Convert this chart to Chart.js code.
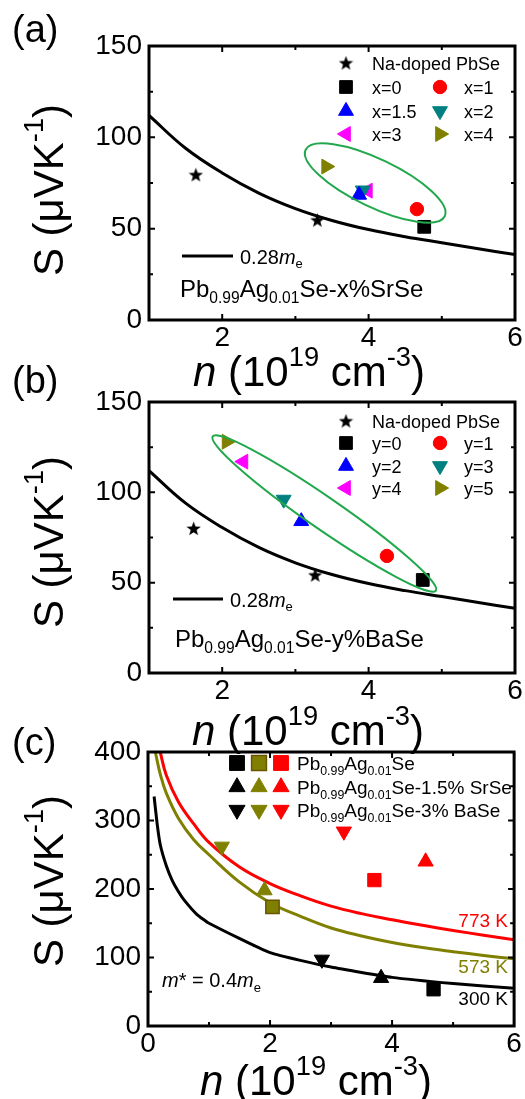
<!DOCTYPE html>
<html><head><meta charset="utf-8">
<script src="https://cdn.jsdelivr.net/npm/chart.js@4.4.0/dist/chart.umd.min.js"></script>
<style>
html,body{margin:0;padding:0;background:#fff;}
#wrap{position:relative;width:525px;height:1099px;overflow:hidden;background:#fff;}
canvas{position:absolute;left:0;top:0;}
</style></head><body>
<div id="wrap">
<canvas id="ca" width="525" height="1099"></canvas>
<canvas id="cb" width="525" height="1099"></canvas>
<canvas id="cc" width="525" height="1099"></canvas>
</div>
<script>
// ---------- DATA ----------
// 0.28 m_e Pisarenko curve (panels a, b)
const curveN = [1, 1.5, 2, 2.5, 3, 3.5, 4, 4.5, 5, 5.5, 6];
const curveS = [112, 94, 80.5, 69.5, 61, 54.5, 49.5, 45.6, 42.3, 39, 35.8];

// Panel (a): Pb0.99Ag0.01Se-x%SrSe
const aStarN = [1.64, 3.30];
const aStarS = [79.5, 54.7];
const aLabels = ['x=0', 'x=1', 'x=1.5', 'x=2', 'x=3', 'x=4'];
const aN = [4.76, 4.66, 3.87, 3.92, 3.99, 3.42];
const aS = [51, 60.7, 68.5, 71, 70.8, 84];

// Panel (b): Pb0.99Ag0.01Se-y%BaSe
const bStarN = [1.61, 3.27];
const bStarS = [80, 54.2];
const bLabels = ['y=0', 'y=1', 'y=2', 'y=3', 'y=4', 'y=5'];
const bN = [4.74, 4.25, 3.08, 2.84, 2.29, 2.06];
const bS = [51.5, 64.8, 84, 96, 117, 128];

// Panel (c): temperature-dependent curves (m* = 0.4 m_e)
const n300 = [0.1, 0.15, 0.2, 0.3, 0.4, 0.5, 0.6, 0.8, 1, 2, 3, 4, 5, 6];
const s300 = [335, 295, 265, 234, 212, 196, 183, 163, 150, 107, 86, 71, 62, 55];
const n573 = [0.12, 0.2, 0.3, 0.5, 0.75, 1, 1.5, 2, 2.5, 3, 3.5, 4, 4.5, 5, 5.5, 6];
const s573 = [400, 368, 340, 303, 272, 250, 210, 180, 160, 143, 131.5, 122, 114.5, 108.5, 103, 98];
const n773 = [0.2, 0.3, 0.5, 0.75, 1, 1.5, 2, 2.5, 3, 3.5, 4, 4.5, 5, 5.5, 6];
const s773 = [400, 366, 327, 295, 268, 232, 208, 190, 175, 164, 155, 147, 139.5, 132.5, 126];
// markers: [300 K, 573 K, 773 K]
const cTempLabels = ['300 K', '573 K', '773 K'];
const cSqN = [4.68, 2.04, 3.71];   const cSqS = [53.6, 174, 213];     // Pb0.99Ag0.01Se
const cUpN = [3.82, 1.91, 4.55];   const cUpS = [70, 198, 240];       // -1.5% SrSe
const cDnN = [2.85, 1.21, 3.21];   const cDnS = [97, 262, 284];       // -3% BaSe

// tick labels
const abXTickLabels = [2, 4, 6];
const abYTickLabels = [0, 50, 100, 150];
const cXTickLabels = [0, 2, 4, 6];
const cYTickLabels = [0, 100, 200, 300, 400];

// ---------- STYLE ----------
const FONT = "'Liberation Sans', Arial, Helvetica, sans-serif";
const abColors = ['#000000', '#ff0000', '#0000ff', '#008080', '#ff00ff', '#808000'];
const abStyles = ['rect', 'circle', 'triangle', 'triangle', 'triangle', 'triangle'];
const abRot = [0, 0, 0, 180, -90, 90];
const abRad = [9, 6.7, 8.6, 8.6, 8.6, 8.6];
const tColors = ['#000000', '#808000', '#ff0000'];
const GREEN = '#22a84c';

function makeStar(size, color) {
  const c = document.createElement('canvas');
  c.width = size; c.height = size;
  const g = c.getContext('2d');
  const cx = size / 2, cy = size / 2 + 0.6, R = size / 2, r = R * 0.42;
  g.beginPath();
  for (let i = 0; i < 10; i++) {
    const ang = -Math.PI / 2 + i * Math.PI / 5;
    const rr = i % 2 ? r : R;
    g.lineTo(cx + rr * Math.cos(ang), cy + rr * Math.sin(ang));
  }
  g.closePath();
  g.fillStyle = color; g.fill();
  return c;
}
const STAR = makeStar(15, '#000');

function setFont(ctx, size, italic) { ctx.font = (italic ? 'italic ' : '') + size + 'px ' + FONT; }
function segSize(size, mode) { return (mode === 'sub' || mode === 'sup') ? size * 0.65 : size; }
function richWidth(ctx, segs, size) {
  let w = 0;
  segs.forEach(([t, m]) => { setFont(ctx, segSize(size, m), m === 'i'); w += ctx.measureText(t).width; });
  return w;
}
function drawRich(ctx, x, y, segs, size, align, color) {
  ctx.save();
  ctx.fillStyle = color || '#000';
  ctx.textBaseline = 'alphabetic';
  ctx.textAlign = 'left';
  const w = richWidth(ctx, segs, size);
  let cx = align === 'center' ? x - w / 2 : align === 'right' ? x - w : x;
  segs.forEach(([t, m]) => {
    const s = segSize(size, m);
    setFont(ctx, s, m === 'i');
    let dy = 0;
    if (m === 'sub') dy = size * 0.24;
    if (m === 'sup') dy = -size * 0.47;
    ctx.fillText(t, cx, y + dy);
    cx += ctx.measureText(t).width;
  });
  ctx.restore();
}

// frame + inward ticks
const framePlugin = {
  id: 'frame',
  afterDraw(chart) {
    const { ctx, chartArea: a, scales: { x, y } } = chart;
    ctx.save();
    ctx.strokeStyle = '#000';
    ctx.lineWidth = 2;
    ctx.beginPath();
    x.ticks.forEach(t => {
      const px = x.getPixelForValue(t.value);
      const L = t.label !== '' ? 6 : 4;
      ctx.moveTo(px, a.bottom); ctx.lineTo(px, a.bottom - L);
      ctx.moveTo(px, a.top); ctx.lineTo(px, a.top + L);
    });
    y.ticks.forEach(t => {
      const py = y.getPixelForValue(t.value);
      const L = t.label !== '' ? 6 : 4;
      ctx.moveTo(a.left, py); ctx.lineTo(a.left + L, py);
      ctx.moveTo(a.right, py); ctx.lineTo(a.right - L, py);
    });
    ctx.stroke();
    ctx.lineWidth = 3;
    ctx.strokeRect(a.left, a.top, a.right - a.left, a.bottom - a.top);
    ctx.restore();
  }
};

const yTitle = [['S (\u03bcVK', ''], ['-1', 'sup'], [')', '']];
const xTitle = [['n', 'i'], [' (10', ''], ['19', 'sup'], [' cm', ''], ['-3', 'sup'], [')', '']];

function drawTitles(ctx, o) {
  drawRich(ctx, o.xtX, o.xtY, xTitle, 42, 'left');
  ctx.save();
  ctx.translate(63, o.ytC);
  ctx.rotate(-Math.PI / 2);
  drawRich(ctx, 0, 0, yTitle, 42, 'center');
  ctx.restore();
  setFont(ctx, 38, false);
  ctx.fillStyle = '#000';
  ctx.textAlign = 'left'; ctx.textBaseline = 'alphabetic';
  ctx.fillText(o.panel, 12, o.panelY);
}

function drawEllipse(chart, e) {
  const { ctx, scales: { x, y } } = chart;
  const x1 = x.getPixelForValue(e.p1[0]), y1 = y.getPixelForValue(e.p1[1]);
  const x2 = x.getPixelForValue(e.p2[0]), y2 = y.getPixelForValue(e.p2[1]);
  const cx = (x1 + x2) / 2, cy = (y1 + y2) / 2;
  const a = Math.hypot(x2 - x1, y2 - y1) / 2;
  const ang = Math.atan2(y2 - y1, x2 - x1);
  ctx.save();
  ctx.strokeStyle = GREEN; ctx.lineWidth = 2;
  ctx.beginPath();
  ctx.ellipse(cx, cy, a, e.b, ang, 0, Math.PI * 2);
  ctx.stroke();
  ctx.restore();
}

function abPlugin(o) {
  return {
    id: 'deco',
    afterDatasetsDraw(chart) {
      drawEllipse(chart, o.ellipse);
    },
    afterDraw(chart) {
      const { ctx, chartArea: A } = chart;
      drawTitles(ctx, o);
      // legend
      const m1 = A.right - 169, t1 = A.right - 143, m2 = A.right - 75, t2 = A.right - 51;
      const rows = o.rows;
      ctx.drawImage(STAR, m1 - 7.5, rows[0] - 7.5);
      ctx.save();
      setFont(ctx, 18, false);
      ctx.fillStyle = '#000'; ctx.textBaseline = 'alphabetic'; ctx.textAlign = 'left';
      ctx.fillText('Na-doped PbSe', t1, rows[0] + 6.5);
      for (let i = 0; i < 6; i++) {
        const col = i % 2, row = 1 + Math.floor(i / 2);
        const mx = col ? m2 : m1, tx = col ? t2 : t1, my = rows[row];
        ctx.fillStyle = abColors[i]; ctx.strokeStyle = abColors[i]; ctx.lineWidth = 1;
        Chart.helpers.drawPoint(ctx, { pointStyle: abStyles[i], rotation: abRot[i], radius: abRad[i], borderWidth: 1 }, mx, my);
        ctx.fillStyle = '#000';
        setFont(ctx, 18, false);
        ctx.fillText(o.labels[i], tx, my + 6.5);
      }
      // 0.28 me line and label
      ctx.strokeStyle = '#000'; ctx.lineWidth = 3;
      ctx.beginPath(); ctx.moveTo(o.lineX[0], o.lineY); ctx.lineTo(o.lineX[1], o.lineY); ctx.stroke();
      ctx.restore();
      drawRich(ctx, o.lineX[1] + 7, o.lineY + 7.5, [['0.28', ''], ['m', 'i'], ['e', 'sub']], 20, 'left');
      drawRich(ctx, o.compX, o.compY, [['Pb', ''], ['0.99', 'sub'], ['Ag', ''], ['0.01', 'sub'], [o.comp, '']], 24, 'left');
    }
  };
}

function tickCb(list) { return v => (list.includes(Math.round(v * 1000) / 1000) ? String(v) : ''); }

function scales(xmin, xmax, ymin, ymax, ystep, xl, yl, ywidth) {
  return {
    x: {
      type: 'linear', min: xmin, max: xmax,
      grid: { display: false, drawTicks: false }, border: { display: false },
      ticks: { stepSize: 1, autoSkip: false, maxRotation: 0, padding: 1, color: '#000',
        font: { family: FONT, size: 28 }, callback: tickCb(xl) },
      afterFit(s) { s.height = 40; }
    },
    y: {
      type: 'linear', min: ymin, max: ymax,
      grid: { display: false, drawTicks: false }, border: { display: false },
      ticks: { stepSize: ystep, autoSkip: false, padding: 7, color: '#000',
        font: { family: FONT, size: 28 }, callback: tickCb(yl) },
      afterFit(s) { s.width = ywidth; }
    }
  };
}

const baseOpts = {
  responsive: false, animation: false, events: [],
  plugins: { legend: { display: false }, tooltip: { enabled: false } }
};

function abDatasets(starN, starS, N, S) {
  const ds = [{
    data: curveN.map((v, i) => ({ x: v, y: curveS[i] })),
    showLine: true, borderColor: '#000', borderWidth: 3, pointRadius: 0,
    tension: 0.4, order: 10
  }, {
    data: starN.map((v, i) => ({ x: v, y: starS[i] })),
    pointStyle: STAR, pointRadius: 7, showLine: false, order: 1
  }];
  for (let i = 0; i < N.length; i++) {
    ds.push({
      data: [{ x: N[i], y: S[i] }], showLine: false,
      pointStyle: abStyles[i], pointRotation: abRot[i], pointRadius: abRad[i],
      backgroundColor: abColors[i], borderColor: abColors[i], borderWidth: 1, order: 1
    });
  }
  return ds;
}

new Chart(document.getElementById('ca'), {
  type: 'scatter',
  data: { datasets: abDatasets(aStarN, aStarS, aN, aS) },
  options: Object.assign({}, baseOpts, {
    layout: { padding: { left: 0, right: 8, top: 46, bottom: 1099 - 320 - 40 } },
    scales: scales(1, 6, 0, 150, 25, abXTickLabels, abYTickLabels, 149)
  }),
  plugins: [framePlugin, abPlugin({
    ellipse: { p1: [3.14, 93.2], p2: [5.04, 56.8], b: 24 },
    rows: [63, 87, 111, 134], labels: aLabels,
    lineX: [182, 233], lineY: 256, compX: 180, compY: 297, comp: 'Se-x%SrSe',
    xtX: 193, xtY: 386, ytC: 190, panel: '(a)', panelY: 42
  })]
});

new Chart(document.getElementById('cb'), {
  type: 'scatter',
  data: { datasets: abDatasets(bStarN, bStarS, bN, bS) },
  options: Object.assign({}, baseOpts, {
    layout: { padding: { left: 0, right: 8, top: 402, bottom: 1099 - 673 - 40 } },
    scales: scales(1, 6, 0, 150, 25, abXTickLabels, abYTickLabels, 149)
  }),
  plugins: [framePlugin, abPlugin({
    ellipse: { p1: [1.87, 131], p2: [4.92, 45.6], b: 16 },
    rows: [421, 443, 466, 488], labels: bLabels,
    lineX: [173, 223], lineY: 599, compX: 175, compY: 647, comp: 'Se-y%BaSe',
    xtX: 192, xtY: 745, ytC: 542, panel: '(b)', panelY: 393
  })]
});

// panel c
const cCurves = [[n300, s300], [n573, s573], [n773, s773]];
const cDs = [];
cCurves.forEach(([N, S], i) => {
  cDs.push({
    data: N.map((v, k) => ({ x: v, y: S[k] })), showLine: true,
    borderColor: tColors[i], borderWidth: 3, pointRadius: 0,
    tension: i === 0 ? 0.15 : 0.4, order: 10
  });
});
const cMarkers = [[cSqN, cSqS, 'rect', 0, 9.4], [cUpN, cUpS, 'triangle', 0, 8.8], [cDnN, cDnS, 'triangle', 180, 8.8]];
cMarkers.forEach(([N, S, st, rot, r]) => {
  for (let i = 0; i < 3; i++) {
    cDs.push({
      data: [{ x: N[i], y: S[i] }], showLine: false, pointStyle: st, pointRotation: rot, pointRadius: r,
      backgroundColor: tColors[i], borderColor: (st === 'rect' && i === 1) ? '#6b5300' : tColors[i],
      borderWidth: (st === 'rect' && i === 1) ? 1.5 : 1, order: 1
    });
  }
});

const cPlugin = {
  id: 'decoC',
  afterDraw(chart) {
    const { ctx } = chart;
    drawTitles(ctx, { xtX: 200, xtY: 1095, ytC: 881, panel: '(c)', panelY: 755 });
    const legendRows = [
      [[['Pb', ''], ['0.99', 'sub'], ['Ag', ''], ['0.01', 'sub'], ['Se', '']], 'rect', 0, 10.5],
      [[['Pb', ''], ['0.99', 'sub'], ['Ag', ''], ['0.01', 'sub'], ['Se-1.5% SrSe', '']], 'triangle', 0, 9.3],
      [[['Pb', ''], ['0.99', 'sub'], ['Ag', ''], ['0.01', 'sub'], ['Se-3% BaSe', '']], 'triangle', 180, 9.3]
    ];
    const ry = [763, 787, 810], mx = [237, 259, 281];
    legendRows.forEach(([segs, st, rot, r], j) => {
      for (let i = 0; i < 3; i++) {
        ctx.save();
        ctx.fillStyle = tColors[i];
        ctx.strokeStyle = (st === 'rect' && i === 1) ? '#6b5300' : tColors[i];
        ctx.lineWidth = (st === 'rect' && i === 1) ? 1.5 : 1;
        Chart.helpers.drawPoint(ctx, { pointStyle: st, rotation: rot, radius: r, borderWidth: ctx.lineWidth }, mx[i], ry[j]);
        ctx.restore();
      }
      drawRich(ctx, 297, ry[j] + 7, segs, 19, 'left');
    });
    // temperature labels
    const ty = [1005, 973, 927];
    for (let i = 0; i < 3; i++) drawRich(ctx, 508, ty[i], [[cTempLabels[i], '']], 19, 'right', tColors[i]);
    drawRich(ctx, 162, 987, [['m', 'i'], ['* = 0.4', ''], ['m', 'i'], ['e', 'sub']], 20, 'left');
  }
};

new Chart(document.getElementById('cc'), {
  type: 'scatter',
  data: { datasets: cDs },
  options: Object.assign({}, baseOpts, {
    layout: { padding: { left: 0, right: 8, top: 752, bottom: 1099 - 1026 - 40 } },
    scales: scales(0, 6, 0, 400, 50, cXTickLabels, cYTickLabels, 148)
  }),
  plugins: [framePlugin, cPlugin]
});
</script>
</body></html>
